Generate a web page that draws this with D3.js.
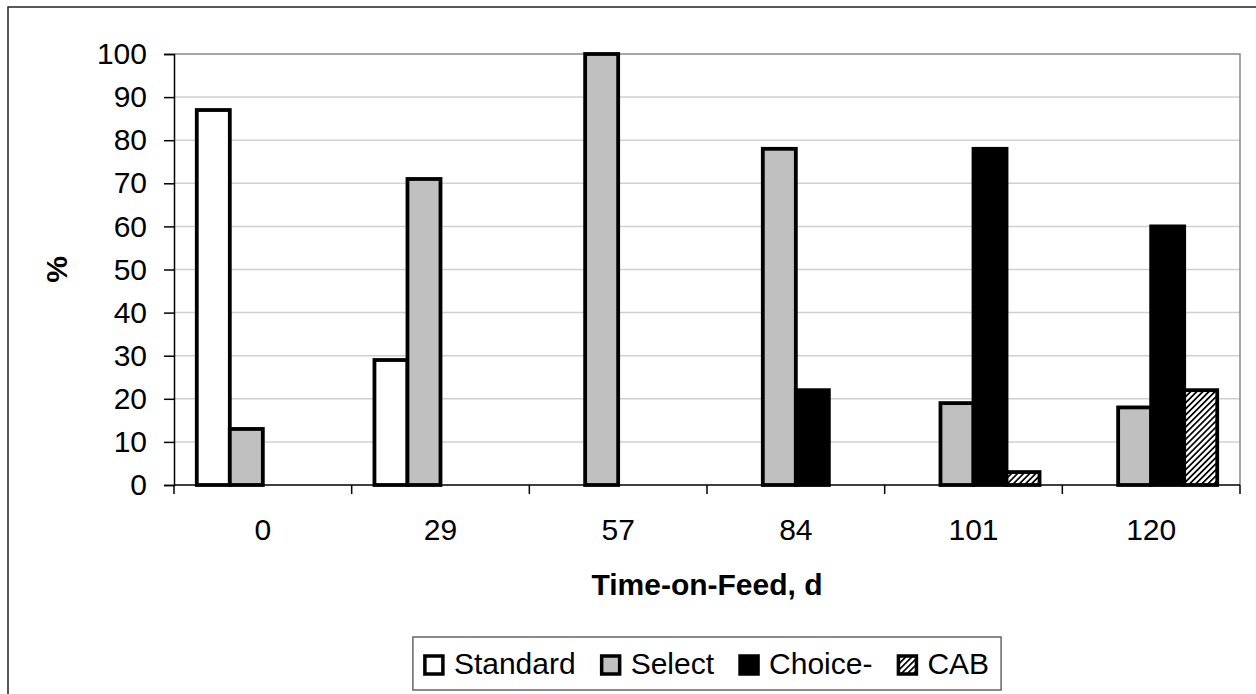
<!DOCTYPE html>
<html>
<head>
<meta charset="utf-8">
<script src="https://cdnjs.cloudflare.com/ajax/libs/d3/7.8.5/d3.min.js"></script>
<style>
  body { margin: 0; background: #fff; }
  svg { display: block; font-family: "Liberation Sans", Arial, sans-serif; }
</style>
</head>
<body>
<svg id="chart" width="1256" height="694"></svg>
<script>
var days = ["0", "29", "57", "84", "101", "120"];
var seriesNames = ["Standard", "Select", "Choice-", "CAB"];
var standard = [87, 29, 0, 0, 0, 0];
var select = [13, 71, 100, 78, 19, 18];
var choice = [0, 0, 0, 22, 78, 60];
var cab = [0, 0, 0, 0, 3, 22];
var yTicks = [0, 10, 20, 30, 40, 50, 60, 70, 80, 90, 100];

var seriesValues = [standard, select, choice, cab];
var fills = ["#ffffff", "#c0c0c0", "#000000", "url(#hatch)"];

var svg = d3.select("#chart");
var plotLeft = 174, plotRight = 1240, plotTop = 54, plotBottom = 485;

// hatch pattern for CAB
var defs = svg.append("defs");
var pat = defs.append("pattern")
    .attr("id", "hatch")
    .attr("patternUnits", "userSpaceOnUse")
    .attr("width", 4.3).attr("height", 4.3)
    .attr("patternTransform", "rotate(45)");
pat.append("rect").attr("width", 4.3).attr("height", 4.3).attr("fill", "#fff");
pat.append("rect").attr("x", 0).attr("width", 1.7).attr("height", 4.3).attr("fill", "#000");

// outer chart border
svg.append("rect")
    .attr("x", 8).attr("y", 7)
    .attr("width", 1270).attr("height", 720)
    .attr("fill", "none").attr("stroke", "#222").attr("stroke-width", 1.5);

var x = d3.scaleBand().domain(days).range([plotLeft, plotRight]).padding(0);
var xs = d3.scaleBand().domain(seriesNames).range([0, x.bandwidth()]).paddingInner(0).paddingOuter(0.69);
var y = d3.scaleLinear().domain([0, 100]).range([plotBottom, plotTop]);

// gridlines
svg.append("g").selectAll("line")
    .data(yTicks.filter(function(d) { return d > 0 && d < 100; }))
  .enter().append("line")
    .attr("x1", plotLeft).attr("x2", plotRight)
    .attr("y1", function(d) { return y(d); })
    .attr("y2", function(d) { return y(d); })
    .attr("stroke", "#d0d0d0").attr("stroke-width", 1.5);

// plot area border top/right
svg.append("path")
    .attr("d", "M" + plotLeft + "," + y(100) + "H" + plotRight + "V" + y(0))
    .attr("fill", "none").attr("stroke", "#888").attr("stroke-width", 1.5);

// bars
var bars = [];
seriesValues.forEach(function(vals, s) {
  vals.forEach(function(v, i) {
    if (v > 0) bars.push({ day: days[i], series: seriesNames[s], value: v, fill: fills[s] });
  });
});

svg.append("g").selectAll("rect")
    .data(bars)
  .enter().append("rect")
    .attr("x", function(d) { return x(d.day) + xs(d.series); })
    .attr("width", xs.bandwidth())
    .attr("y", function(d) { return y(d.value); })
    .attr("height", function(d) { return y(0) - y(d.value); })
    .attr("fill", function(d) { return d.fill; })
    .attr("stroke", "#000").attr("stroke-width", 3.8);

// y axis
var yAxis = svg.append("g")
    .attr("transform", "translate(" + plotLeft + ",0)")
    .call(d3.axisLeft(y).tickValues(yTicks).tickSize(10).tickPadding(17));
yAxis.select(".domain").attr("stroke", "#000").attr("stroke-width", 1.5);
yAxis.selectAll(".tick line").attr("stroke", "#000").attr("stroke-width", 1.5);
yAxis.selectAll(".tick text").attr("font-size", 30).attr("fill", "#000")
    .attr("font-family", "Liberation Sans, Arial, sans-serif");

// x axis
var xAxis = svg.append("g")
    .attr("transform", "translate(0," + plotBottom + ")")
    .call(d3.axisBottom(x).tickSize(0).tickPadding(34));
xAxis.select(".domain").remove();
xAxis.append("line").attr("x1", plotLeft).attr("x2", plotRight)
    .attr("stroke", "#000").attr("stroke-width", 1.5);
xAxis.selectAll(".tick text").attr("font-size", 30).attr("fill", "#000")
    .attr("font-family", "Liberation Sans, Arial, sans-serif");
// category boundary ticks
xAxis.selectAll(".bound")
    .data(days.concat(["end"]))
  .enter().append("line")
    .attr("x1", function(d, i) { return i < days.length ? x(d) : plotRight; })
    .attr("x2", function(d, i) { return i < days.length ? x(d) : plotRight; })
    .attr("y1", 0).attr("y2", 9)
    .attr("stroke", "#000").attr("stroke-width", 1.5);

// axis titles
svg.append("text")
    .attr("x", (plotLeft + plotRight) / 2).attr("y", 595)
    .attr("text-anchor", "middle")
    .attr("font-size", 30).attr("font-weight", "bold")
    .text("Time-on-Feed, d");

svg.append("text")
    .attr("transform", "translate(67," + ((plotTop + plotBottom) / 2) + ") rotate(-90)")
    .attr("text-anchor", "middle")
    .attr("font-size", 30).attr("font-weight", "bold")
    .text("%");

// legend
var lg = svg.append("g");
var lgItems = lg.selectAll("g.item")
    .data(seriesNames)
  .enter().append("g").attr("class", "item");
lgItems.append("rect")
    .attr("y", -1)
    .attr("width", 18).attr("height", 18)
    .attr("fill", function(d, i) { return fills[i]; })
    .attr("stroke", "#000").attr("stroke-width", 3.5);
lgItems.append("text")
    .attr("x", 29).attr("y", 17)
    .attr("font-size", 30)
    .text(function(d) { return d; });

var offsets = [];
var cursor = 0;
lgItems.each(function() {
  var w = this.querySelector("text").getComputedTextLength();
  offsets.push(cursor);
  cursor += 29 + w + 26;
});
var lgWidth = cursor - 26;
var lgLeft = (plotLeft + plotRight) / 2 - lgWidth / 2;
lgItems.attr("transform", function(d, i) { return "translate(" + (lgLeft + offsets[i]) + ",657)"; });
lg.insert("rect", ":first-child")
    .attr("x", lgLeft - 12).attr("y", 637)
    .attr("width", lgWidth + 24).attr("height", 53)
    .attr("fill", "#fff").attr("stroke", "#666").attr("stroke-width", 1.5);
</script>
</body>
</html>
